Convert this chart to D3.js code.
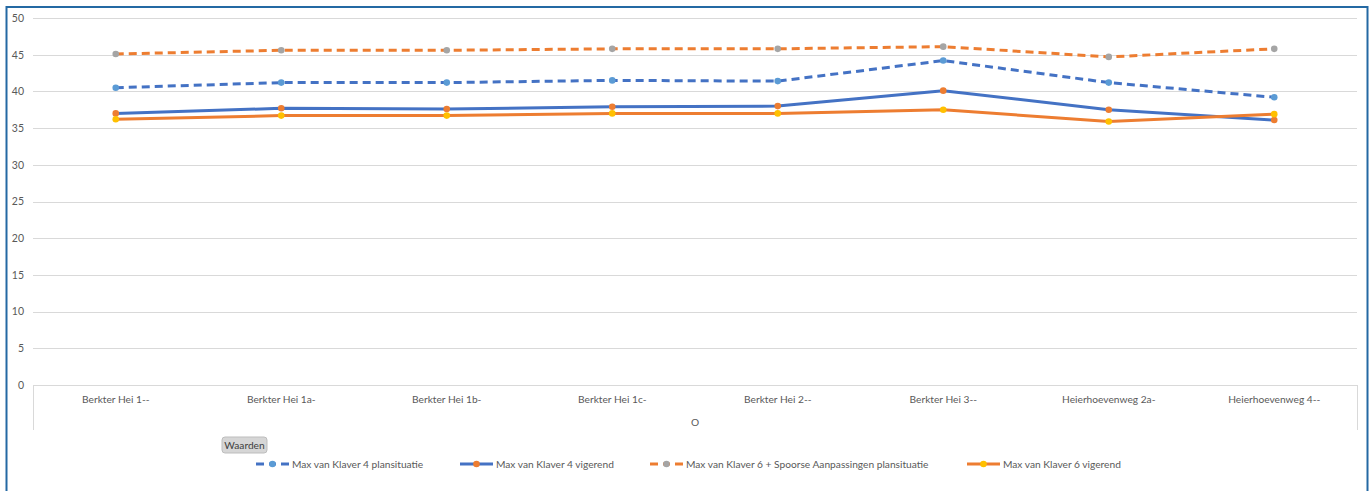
<!DOCTYPE html>
<html>
<head>
<meta charset="utf-8">
<script src="https://cdn.jsdelivr.net/npm/d3@7/dist/d3.min.js"></script>
<style>
  html, body { margin: 0; padding: 0; background: #fff; }
  svg { display: block; font-family: Lato, "Open Sans", sans-serif; }
</style>
</head>
<body>
<svg id="chart" width="1371" height="491"></svg>
<script>
// Locations along the route
const categories = [
  "Berkter Hei 1--", "Berkter Hei 1a-", "Berkter Hei 1b-", "Berkter Hei 1c-",
  "Berkter Hei 2--", "Berkter Hei 3--", "Heierhoevenweg 2a-", "Heierhoevenweg 4--"
];

// Maximum levels per scenario
const klaver4Plan    = [40.5, 41.2, 41.2, 41.5, 41.4, 44.2, 41.2, 39.2];
const klaver4Vig     = [37.0, 37.7, 37.6, 37.9, 38.0, 40.1, 37.5, 36.1];
const klaver6Plan    = [45.1, 45.6, 45.6, 45.8, 45.8, 46.1, 44.7, 45.8];
const klaver6Vig     = [36.2, 36.7, 36.7, 37.0, 37.0, 37.5, 35.9, 36.9];

const seriesNames = [
  "Max van Klaver 4 plansituatie",
  "Max van Klaver 4 vigerend",
  "Max van Klaver 6 + Spoorse Aanpassingen plansituatie",
  "Max van Klaver 6 vigerend"
];

const yTicks = [0, 5, 10, 15, 20, 25, 30, 35, 40, 45, 50];
const axisTitle = "O";
const buttonLabel = "Waarden";

const series = [
  { name: seriesNames[0], values: klaver4Plan, line: "#4472C4", dot: "#5B9BD5", dash: "8,5" },
  { name: seriesNames[1], values: klaver4Vig,  line: "#4472C4", dot: "#ED7D31", dash: null },
  { name: seriesNames[2], values: klaver6Plan, line: "#ED7D31", dot: "#A5A5A5", dash: "8,5" },
  { name: seriesNames[3], values: klaver6Vig,  line: "#ED7D31", dot: "#FFC000", dash: null }
];

const svg = d3.select("#chart");
const plot = { left: 33, right: 1357, top: 18, bottom: 385 };
const labelFont = "10.2px";

const x = d3.scaleBand().domain(categories).range([plot.left, plot.right]);
const y = d3.scaleLinear().domain([0, 50]).range([plot.bottom, plot.top]);

// outer frame
svg.append("rect")
  .attr("x", 6.5).attr("y", 7).attr("width", 1361).attr("height", 492)
  .attr("fill", "none").attr("stroke", "#2469a3").attr("stroke-width", 2);

// gridlines
svg.append("g")
  .selectAll("line").data(yTicks).join("line")
  .attr("x1", plot.left).attr("x2", plot.right)
  .attr("y1", d => Math.round(y(d)) + 0.5).attr("y2", d => Math.round(y(d)) + 0.5)
  .attr("stroke", "#d9d9d9").attr("stroke-width", 1);

// y axis labels
const yAxis = d3.axisLeft(y).tickValues(yTicks).tickSize(0).tickPadding(0);
const yg = svg.append("g").attr("transform", "translate(24,0)").call(yAxis);
yg.select(".domain").remove();
yg.selectAll("text").attr("fill", "#595959").style("font-size", "10.5px")
  .style("font-family", "Lato, 'Open Sans', sans-serif");

// category box sides
[plot.left, plot.right].forEach(px => {
  svg.append("line")
    .attr("x1", px + 0.5).attr("x2", px + 0.5)
    .attr("y1", plot.bottom).attr("y2", 430)
    .attr("stroke", "#d9d9d9");
});

// x axis labels
const xAxis = d3.axisBottom(x).tickSize(0).tickPadding(11);
const xg = svg.append("g").attr("transform", `translate(0,${plot.bottom})`).call(xAxis);
xg.select(".domain").remove();
xg.selectAll("text").attr("fill", "#595959").style("font-size", labelFont)
  .style("font-family", "Lato, 'Open Sans', sans-serif");

svg.append("text")
  .attr("x", (plot.left + plot.right) / 2).attr("y", 426)
  .attr("text-anchor", "middle").attr("fill", "#595959")
  .style("font-size", labelFont).text(axisTitle);

// series lines and markers
const lineGen = d3.line()
  .x((d, i) => x(categories[i]) + x.bandwidth() / 2)
  .y(d => y(d));

series.forEach(s => {
  svg.append("path")
    .datum(s.values)
    .attr("d", lineGen)
    .attr("fill", "none")
    .attr("stroke", s.line)
    .attr("stroke-width", 3)
    .attr("stroke-linejoin", "round")
    .attr("stroke-dasharray", s.dash);
});
series.forEach(s => {
  svg.append("g").selectAll("circle").data(s.values).join("circle")
    .attr("cx", (d, i) => x(categories[i]) + x.bandwidth() / 2)
    .attr("cy", d => y(d))
    .attr("r", 3.3)
    .attr("fill", s.dot);
});

// field button
const btn = svg.append("g").attr("transform", "translate(222,437)");
btn.append("rect").attr("width", 45).attr("height", 16).attr("rx", 3)
  .attr("fill", "#d6d6d6").attr("stroke", "#bdbdbd");
btn.append("text").attr("x", 22.5).attr("y", 12).attr("text-anchor", "middle")
  .attr("fill", "#404040").style("font-size", "10.2px").text(buttonLabel);

// legend
const legendX = [256, 460, 650, 967];
const legend = svg.append("g");
series.forEach((s, i) => {
  const g = legend.append("g").attr("transform", `translate(${legendX[i]},464)`);
  if (s.dash) {
    g.append("line").attr("x1", 0).attr("x2", 8).attr("stroke", s.line).attr("stroke-width", 3);
    g.append("line").attr("x1", 13).attr("x2", 20).attr("stroke", s.line).attr("stroke-width", 3);
    g.append("line").attr("x1", 25).attr("x2", 33).attr("stroke", s.line).attr("stroke-width", 3);
  } else {
    g.append("line").attr("x1", 0).attr("x2", 33).attr("stroke", s.line).attr("stroke-width", 3);
  }
  g.append("circle").attr("cx", 16.5).attr("cy", 0).attr("r", 3.3).attr("fill", s.dot);
  g.append("text").attr("x", 36).attr("y", 4).attr("fill", "#595959")
    .style("font-size", labelFont).text(s.name);
});
</script>
</body>
</html>
